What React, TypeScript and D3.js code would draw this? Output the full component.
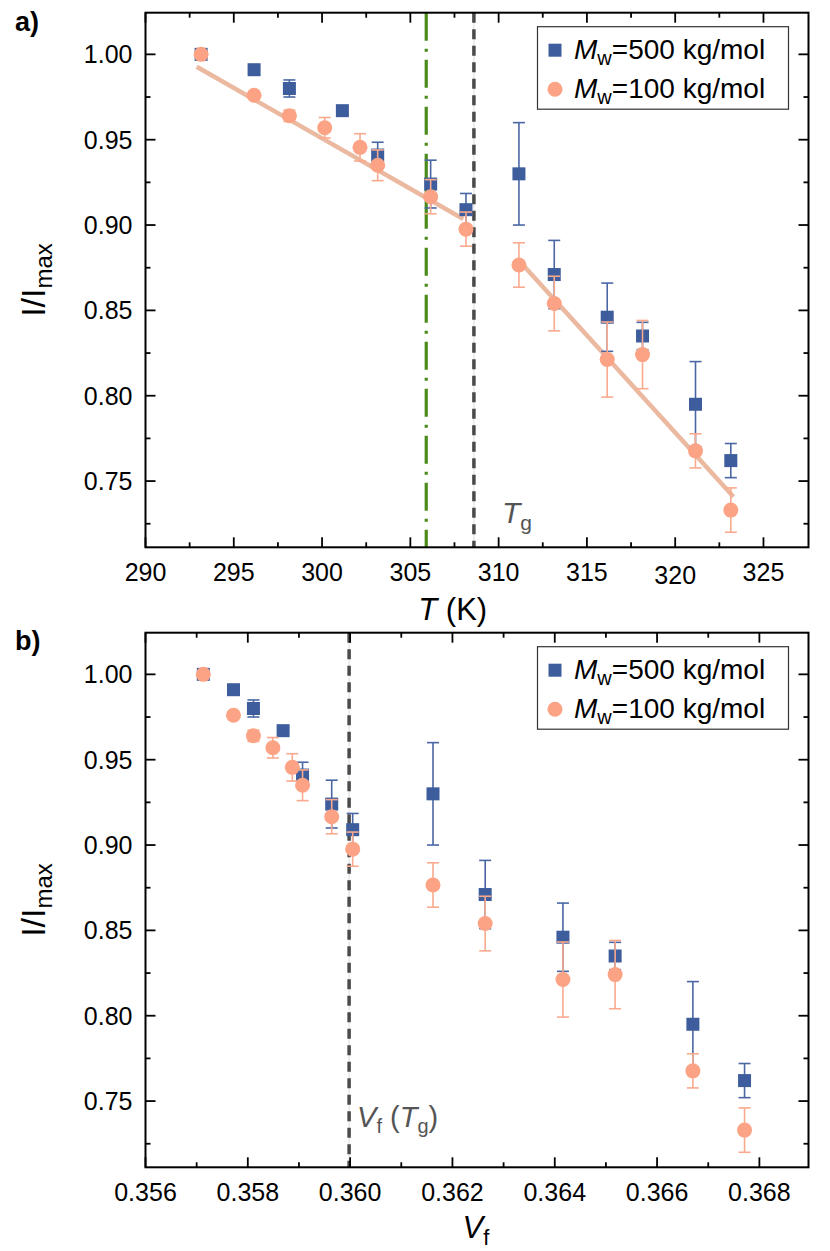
import React from 'react';
import * as d3 from 'd3';

// ---------- data ----------
const T500 = [293.15, 296.15, 298.15, 301.15, 303.15, 306.15, 308.15, 311.15, 313.15, 316.15, 318.15, 321.15, 323.15];
const I500 = [1.0, 0.991, 0.98, 0.967, 0.941, 0.924, 0.909, 0.93, 0.871, 0.846, 0.835, 0.795, 0.762];
const E500 = [0.001, 0.001, 0.005, 0.002, 0.0075, 0.014, 0.0095, 0.03, 0.02, 0.02, 0.008, 0.025, 0.01];
const Vf500 = [0.35713, 0.35772, 0.35811, 0.35869, 0.35907, 0.35964, 0.36005, 0.36162, 0.36264, 0.36416, 0.36518, 0.3667, 0.36771];

const T100 = [293.15, 296.15, 298.15, 300.15, 302.15, 303.15, 306.15, 308.15, 311.15, 313.15, 316.15, 318.15, 321.15, 323.15];
const I100 = [1.0, 0.976, 0.964, 0.957, 0.9455, 0.935, 0.9166, 0.8976, 0.8766, 0.854, 0.8212, 0.8241, 0.7677, 0.733];
const E100 = [0.001, 0.001, 0.0033, 0.006, 0.008, 0.009, 0.01, 0.01, 0.013, 0.016, 0.022, 0.02, 0.01, 0.013];
const Vf100 = [0.35713, 0.35772, 0.35811, 0.35849, 0.35887, 0.35907, 0.35964, 0.36005, 0.36162, 0.36264, 0.36416, 0.36518, 0.3667, 0.36771];

const fitBelowTg: [number, number][] = [[292.9, 0.9927], [308.0, 0.9035]];
const fitAboveTg: [number, number][] = [[311.2, 0.8786], [323.3, 0.7408]];

const T_GREEN = 305.9;
const T_G = 308.6;
const VF_TG = 0.35998;

const tMajor = [290, 295, 300, 305, 310, 315, 320, 325];
const tMinor = [292.5, 297.5, 302.5, 307.5, 312.5, 317.5, 322.5];
const vMajor = [0.356, 0.358, 0.36, 0.362, 0.364, 0.366, 0.368];
const vMinor = [0.357, 0.359, 0.361, 0.363, 0.365, 0.367];
const yMajor = [0.75, 0.8, 0.85, 0.9, 0.95, 1.0];
const yMinor = [0.725, 0.775, 0.825, 0.875, 0.925, 0.975];

const legendLabels = ['=500 kg/mol', '=100 kg/mol'];

// ---------- style ----------
const FONT = "'Liberation Sans', Arial, Helvetica, sans-serif";
const BLUE = '#3e5d9c';
const BLUE_BAR = '#4a67a4';
const ORANGE = '#fca385';
const ORANGE_BAR = '#f9aa8e';
const FIT = '#ebb8a0';
const LEFT = 145.5;
const RIGHT = 808.5;

type PanelProps = {
  top: number;
  bottom: number;
  x: d3.ScaleLinear<number, number>;
  xs500: number[];
  xs100: number[];
  major: number[];
  minor: number[];
  fmt: (v: number) => string;
  tickDy?: (v: number) => number;
  children?: React.ReactNode;
};

function ErrorSeries({ xs, ys, es, x, y, color, kind, fill }: any) {
  return (
    <g>
      {xs.map((xv: number, i: number) => {
        const cx = x(xv);
        const y1 = y(ys[i] - es[i]);
        const y2 = y(ys[i] + es[i]);
        return (
          <g key={'e' + i} stroke={color} strokeWidth={1.6}>
            <line x1={cx} x2={cx} y1={y1} y2={y2} />
            <line x1={cx - 6} x2={cx + 6} y1={y1} y2={y1} />
            <line x1={cx - 6} x2={cx + 6} y1={y2} y2={y2} />
          </g>
        );
      })}
      {xs.map((xv: number, i: number) => {
        const cx = x(xv);
        const cy = y(ys[i]);
        return kind === 'square' ? (
          <rect key={'m' + i} x={cx - 6.5} y={cy - 6.5} width={13} height={13} fill={fill} />
        ) : (
          <circle key={'m' + i} cx={cx} cy={cy} r={7.5} fill={fill} />
        );
      })}
    </g>
  );
}

function Panel({ top, bottom, x, xs500, xs100, major, minor, fmt, tickDy, children }: PanelProps) {
  const y = d3.scaleLinear().domain([0.7112, 1.0244]).range([bottom, top]);
  const legTop = top + 14;
  return (
    <g>
      {children}
      <ErrorSeries xs={xs500} ys={I500} es={E500} x={x} y={y} color={BLUE_BAR} fill={BLUE} kind="square" />
      <ErrorSeries xs={xs100} ys={I100} es={E100} x={x} y={y} color={ORANGE_BAR} fill={ORANGE} kind="circle" />
      {/* frame */}
      <rect x={LEFT} y={top} width={RIGHT - LEFT} height={bottom - top} fill="none" stroke="#000" strokeWidth={2} />
      {/* ticks */}
      <g stroke="#000" strokeWidth={1.8}>
        {major.map((v) => (
          <g key={'xM' + v}>
            <line x1={x(v)} x2={x(v)} y1={bottom} y2={bottom - 10} />
            <line x1={x(v)} x2={x(v)} y1={top} y2={top + 10} />
          </g>
        ))}
        {minor.map((v) => (
          <g key={'xm' + v}>
            <line x1={x(v)} x2={x(v)} y1={bottom} y2={bottom - 5} />
            <line x1={x(v)} x2={x(v)} y1={top} y2={top + 5} />
          </g>
        ))}
        {yMajor.map((v) => (
          <g key={'yM' + v}>
            <line x1={LEFT} x2={LEFT + 10} y1={y(v)} y2={y(v)} />
            <line x1={RIGHT} x2={RIGHT - 10} y1={y(v)} y2={y(v)} />
          </g>
        ))}
        {yMinor.map((v) => (
          <g key={'ym' + v}>
            <line x1={LEFT} x2={LEFT + 5} y1={y(v)} y2={y(v)} />
            <line x1={RIGHT} x2={RIGHT - 5} y1={y(v)} y2={y(v)} />
          </g>
        ))}
      </g>
      {/* tick labels */}
      <g fontSize={25} fill="#000">
        {major.map((v) => (
          <text key={'xl' + v} x={x(v)} y={bottom + 33.5 + (tickDy ? tickDy(v) : 0)} textAnchor="middle">
            {fmt(v)}
          </text>
        ))}
        {yMajor.map((v) => (
          <text key={'yl' + v} x={LEFT - 13} y={y(v)} dy="0.36em" textAnchor="end">
            {d3.format('.2f')(v)}
          </text>
        ))}
      </g>
      {/* y label */}
      <text transform={`translate(45, ${(top + bottom) / 2}) rotate(-90)`} textAnchor="middle" fontSize={34}>
        I/I<tspan fontSize={24} dy={7}>max</tspan>
      </text>
      {/* legend */}
      <rect x={537.5} y={legTop} width={251} height={82.5} fill="#fff" stroke="#333" strokeWidth={1.2} />
      <rect x={555 - 6.5} y={legTop + 23.5 - 6.5} width={13} height={13} fill={BLUE} />
      <circle cx={555} cy={legTop + 62.5} r={7.5} fill={ORANGE} />
      {legendLabels.map((lab, i) => (
        <text key={'lg' + i} x={574} y={legTop + 32 + i * 39} fontSize={28}>
          <tspan fontStyle="italic">M</tspan>
          <tspan fontSize={20} dy={6}>w</tspan>
          <tspan dy={-6}>{lab}</tspan>
        </text>
      ))}
    </g>
  );
}

export default function App() {
  const xT = d3.scaleLinear().domain([290, 327.55]).range([LEFT, RIGHT]);
  const xV = d3.scaleLinear().domain([0.356, 0.36896]).range([LEFT, RIGHT]);

  const topA = 12.7, botA = 547.3;
  const topB = 632.7, botB = 1167.3;
  const yA = d3.scaleLinear().domain([0.7112, 1.0244]).range([botA, topA]);
  const fitLine = d3.line<[number, number]>().x((d) => xT(d[0])).y((d) => yA(d[1]));

  return (
    <svg width={830} height={1251} style={{ position: 'absolute', left: 0, top: 0, background: '#fff' }} fontFamily={FONT}>
      <rect x={0} y={0} width={830} height={1251} fill="#fff" />
      {/* panel a */}
      <Panel
        top={topA}
        bottom={botA}
        x={xT}
        xs500={T500}
        xs100={T100}
        major={tMajor}
        minor={tMinor}
        fmt={(v) => d3.format('d')(v)}
        tickDy={(v) => (v === 320 ? 3 : 0)}
      >
        <line x1={xT(T_G)} x2={xT(T_G)} y1={topA} y2={botA} stroke="#dcdcdc" strokeWidth={1} />
        <line x1={xT(T_G)} x2={xT(T_G)} y1={topA} y2={botA} stroke="#4a4a4a" strokeWidth={3.5} strokeDasharray="10,6.5" />
        <line x1={xT(T_GREEN)} x2={xT(T_GREEN)} y1={topA} y2={botA} stroke="#4b8b1b" strokeWidth={3.2} strokeDasharray="28,8,3,8" />
        <path d={fitLine(fitBelowTg) || ''} stroke={FIT} strokeWidth={4.5} fill="none" />
        <path d={fitLine(fitAboveTg) || ''} stroke={FIT} strokeWidth={4.5} fill="none" />
        <text x={xT(T_G) + 28} y={523} fill="#555" fontSize={30}>
          <tspan fontStyle="italic">T</tspan>
          <tspan fontSize={21} dy={7}>g</tspan>
        </text>
      </Panel>
      <text x={15} y={31} fontSize={27} fontWeight="bold">a)</text>
      <text x={xT(307.4)} y={620} textAnchor="middle" fontSize={31}>
        <tspan fontStyle="italic">T</tspan> (K)
      </text>

      {/* panel b */}
      <Panel
        top={topB}
        bottom={botB}
        x={xV}
        xs500={Vf500}
        xs100={Vf100}
        major={vMajor}
        minor={vMinor}
        fmt={(v) => d3.format('.3f')(v)}
      >
        <line x1={xV(VF_TG)} x2={xV(VF_TG)} y1={topB} y2={botB} stroke="#dcdcdc" strokeWidth={1} />
        <line x1={xV(VF_TG)} x2={xV(VF_TG)} y1={topB} y2={botB} stroke="#4a4a4a" strokeWidth={3.5} strokeDasharray="10,6.5" />
        <text x={xV(VF_TG) + 8} y={1127} fill="#555" fontSize={29}>
          <tspan fontStyle="italic">V</tspan>
          <tspan fontSize={20} dy={6}>f</tspan>
          <tspan dy={-6}> (</tspan>
          <tspan fontStyle="italic">T</tspan>
          <tspan fontSize={20} dy={6}>g</tspan>
          <tspan dy={-6}>)</tspan>
        </text>
      </Panel>
      <text x={15} y={650} fontSize={27} fontWeight="bold">b)</text>
      <text x={476} y={1238} textAnchor="middle" fontSize={31}>
        <tspan fontStyle="italic">V</tspan>
        <tspan fontSize={22} dy={7}>f</tspan>
      </text>
    </svg>
  );
}
